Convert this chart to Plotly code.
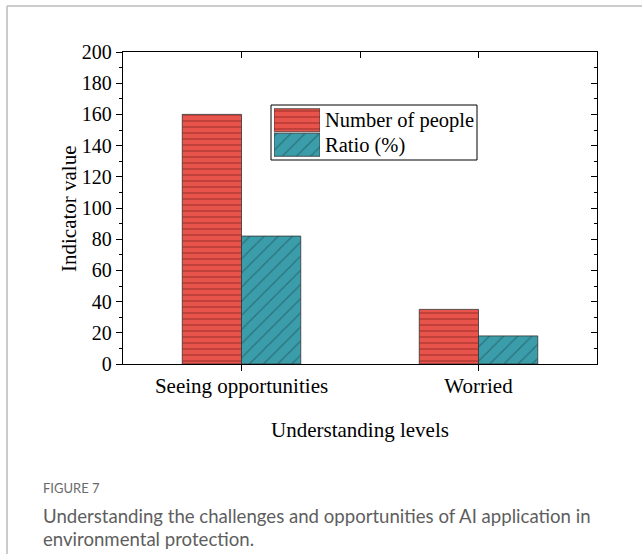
import plotly.graph_objects as go

categories = ["Seeing opportunities", "Worried"]
number_of_people = [160, 35]
ratio_percent = [82, 18]
series_names = ["Number of people", "Ratio (%)"]
y_ticks = [0, 20, 40, 60, 80, 100, 120, 140, 160, 180, 200]

RED = "#E8544B"
TEAL = "#3C9DAA"
SERIF = "Liberation Serif"
FS = 21

# plot area in pixels
W, H = 642, 554
L, R, T, B = 123, 597, 52, 364
def px(x):
    return (x - L) / (R - L)
def py(y):
    return (B - y) / (B - T)

fig = go.Figure()

red_pattern = dict(shape="-", size=6, solidity=0.3, fgcolor="#8E2A24", bgcolor=RED)
teal_pattern = dict(shape="/", size=10, solidity=0.13, fgcolor="#17474E", bgcolor=TEAL)

fig.add_trace(go.Bar(x=categories, y=number_of_people, name=series_names[0],
                     marker=dict(color=RED, pattern=red_pattern,
                                 line=dict(color="#333333", width=0.8)),
                     showlegend=False))
fig.add_trace(go.Bar(x=categories, y=ratio_percent, name=series_names[1],
                     marker=dict(color=TEAL, pattern=teal_pattern,
                                 line=dict(color="#333333", width=0.8)),
                     showlegend=False))

# mirror axes (top and right) with inside ticks
fig.add_trace(go.Scatter(x=[], y=[], xaxis="x2", yaxis="y2", showlegend=False))

# legend swatches drawn as bars in a small subplot
fig.add_trace(go.Bar(y=[1], x=[1], orientation="h", xaxis="x3", yaxis="y3", width=0.94,
                     marker=dict(color=RED, pattern=red_pattern, line=dict(color="#333333", width=0.8)),
                     showlegend=False, hoverinfo="skip"))
fig.add_trace(go.Bar(y=[0], x=[1], orientation="h", xaxis="x3", yaxis="y3", width=0.94,
                     marker=dict(color=TEAL, pattern=teal_pattern, line=dict(color="#333333", width=0.8)),
                     showlegend=False, hoverinfo="skip"))

axis_common = dict(showline=True, linecolor="black", linewidth=1.3, showgrid=False,
                   zeroline=False, ticklen=6, tickwidth=1.3, tickcolor="black")

fig.update_layout(
    width=W, height=H,
    margin=dict(l=L, r=W - R, t=T, b=H - B, autoexpand=False),
    paper_bgcolor="white", plot_bgcolor="white",
    barmode="group", bargap=0.5, bargroupgap=0,
    font=dict(family=SERIF, size=FS, color="black"),
    xaxis=dict(**axis_common, type="category", range=[-0.5, 1.5], ticks="outside",
               tickfont=dict(family=SERIF, size=FS), ticklabelstandoff=-3,
               title=dict(text="Understanding levels", font=dict(family=SERIF, size=FS), standoff=24)),
    yaxis=dict(**axis_common, range=[0, 200], tickvals=y_ticks, ticks="outside",
               minor=dict(dtick=10, ticks="outside", ticklen=3, tickwidth=1.3, tickcolor="black", showgrid=False),
               tickfont=dict(family=SERIF, size=20)),
    xaxis2=dict(**axis_common, overlaying="x", side="top", anchor="y2", range=[-0.5, 1.5],
                tickvals=[0, 0.5, 1], ticks="inside", showticklabels=False, fixedrange=True),
    yaxis2=dict(**axis_common, overlaying="y", side="right", anchor="x2", range=[0, 200],
                tickvals=y_ticks, ticks="inside", showticklabels=False,
                minor=dict(dtick=10, ticks="inside", ticklen=3, tickwidth=1.3, tickcolor="black", showgrid=False)),
    xaxis3=dict(domain=[px(274), px(320)], anchor="y3", range=[0, 1], visible=False, fixedrange=True),
    yaxis3=dict(domain=[py(157), py(108)], anchor="x3", range=[-0.5, 1.5], visible=False, fixedrange=True),
    showlegend=False,
)

# y-axis title
fig.add_annotation(text="Indicator value", xref="paper", yref="paper", x=px(69), y=py(209),
                   xanchor="center", yanchor="middle", textangle=-90, showarrow=False,
                   font=dict(family=SERIF, size=FS))

# legend frame (drawn below swatches)
fig.add_shape(type="rect", xref="paper", yref="paper", x0=px(271), x1=px(477), y0=py(160), y1=py(105),
              line=dict(color="black", width=1), fillcolor="white", layer="below")

fig.add_annotation(text=series_names[0], xref="paper", yref="paper", x=px(323), y=py(120),
                   xanchor="left", yanchor="middle", showarrow=False, font=dict(family=SERIF, size=20.5))
fig.add_annotation(text=series_names[1], xref="paper", yref="paper", x=px(323), y=py(145),
                   xanchor="left", yanchor="middle", showarrow=False, font=dict(family=SERIF, size=20.5))

# card border
fig.add_shape(type="line", xref="paper", yref="paper", x0=px(7), x1=px(642), y0=py(6), y1=py(6),
              line=dict(color="#BBBBBB", width=1.5))
fig.add_shape(type="line", xref="paper", yref="paper", x0=px(7), x1=px(7), y0=py(6), y1=py(554),
              line=dict(color="#BBBBBB", width=1.5))

# caption
fig.add_annotation(text="FIGURE 7", xref="paper", yref="paper", x=px(41), y=py(488),
                   xanchor="left", yanchor="middle", showarrow=False,
                   font=dict(family="Lato", size=13, color="#6A6A6A"))
fig.add_annotation(text="Understanding the challenges and opportunities of AI application in",
                   xref="paper", yref="paper", x=px(41), y=py(516),
                   xanchor="left", yanchor="middle", showarrow=False,
                   font=dict(family="Lato", size=18.6, color="#5E5E5E"))
fig.add_annotation(text="environmental protection.",
                   xref="paper", yref="paper", x=px(41), y=py(539),
                   xanchor="left", yanchor="middle", showarrow=False,
                   font=dict(family="Lato", size=18.6, color="#5E5E5E"))

fig.write_html("out.html", config={"displayModeBar": False},
               post_script="document.body.style.margin='0';document.body.style.overflow='hidden';")
